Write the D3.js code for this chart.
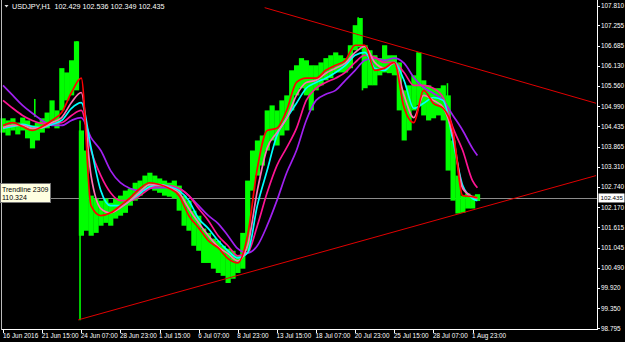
<!DOCTYPE html>
<html>
<head>
<meta charset="utf-8">
<script src="https://cdn.jsdelivr.net/npm/d3@7"></script>
<style>
body { margin: 0; background: #000; }
svg { display: block; }
text { font-family: "Liberation Sans", Arial, sans-serif; }
</style>
</head>
<body>
<svg id="chart" width="625" height="342"></svg>
<script>
// H1 bars, sampled every 8 bars (high / low of each group)
var barStep = 8;
var highs = [104.66,104.60,104.66,104.54,104.68,104.60,104.46,104.54,104.66,104.82,
	105.16,104.88,106.06,105.94,106.28,106.81,104.32,103.76,102.50,102.42,
	102.36,102.42,102.30,102.42,102.50,102.64,102.70,102.86,102.92,103.06,
	103.14,103.06,102.98,102.92,102.86,102.92,102.78,102.50,102.36,102.08,
	101.94,101.58,101.46,101.30,101.24,101.10,101.02,100.96,100.82,101.46,
	102.92,103.76,104.04,104.18,104.88,105.02,104.88,105.16,105.30,106.00,
	106.14,106.34,106.28,106.14,106.14,106.22,106.34,106.42,106.50,106.42,
	106.34,106.70,107.26,107.46,106.70,106.56,106.42,106.34,106.70,106.42,
	106.42,106.22,105.44,105.58,105.86,106.50,105.72,105.58,105.50,105.50,
	105.58,105.30,104.04,103.06,102.50,102.56,102.50,102.54];
var lows = [104.26,104.18,104.32,104.21,104.32,104.10,103.82,104.04,104.26,104.38,
	104.46,104.38,104.88,105.16,105.30,105.44,101.38,101.52,101.38,101.46,
	101.66,101.74,101.66,101.86,101.94,102.02,102.22,102.36,102.50,102.64,
	102.70,102.64,102.58,102.50,102.47,102.42,102.08,101.66,101.52,101.10,
	100.96,100.62,100.62,100.46,100.34,100.26,100.06,100.18,100.34,100.46,
	100.96,102.64,103.06,103.34,103.76,104.04,103.90,104.18,104.32,104.88,
	105.30,105.50,105.30,104.88,105.44,105.58,105.72,105.78,105.94,105.94,
	105.94,106.06,106.56,106.64,105.50,105.58,105.58,105.86,105.94,105.92,
	105.86,104.88,104.04,104.32,104.88,105.02,104.74,104.60,104.66,104.74,
	104.60,103.20,102.36,102.00,102.02,102.14,102.14,102.35];

// single long bars: [bar, high, low]
var spikes = [[121,106.81,105.60],[126,104.60,99.02],[588,106.60,105.44],
	[678,106.50,105.30],[727,105.64,104.90],[52,105.20,104.70],[581,107.48,106.70]];

// moving averages, one value every 16 bars (last one at bar 776)
var maStep = 16;
var maRed = [104.46,104.54,104.43,104.32,104.43,104.60,104.82,105.38,105.78,102.22,
	101.94,102.02,102.22,102.44,102.70,102.86,102.81,102.70,102.50,101.94,
	101.60,101.24,101.04,100.74,100.62,101.38,103.26,104.32,104.38,104.88,
	105.66,105.78,105.78,106.00,106.14,106.28,106.70,106.70,106.00,106.06,
	106.22,104.96,104.54,105.44,105.08,104.94,104.32,102.50,102.47,102.44];
var maPink = [104.40,104.46,104.46,104.38,104.40,104.54,104.68,105.10,105.38,103.06,
	102.14,102.02,102.16,102.36,102.61,102.81,102.81,102.72,102.58,102.14,
	101.74,101.38,101.07,100.88,100.68,101.10,102.64,103.82,104.26,104.66,
	105.30,105.66,105.72,105.92,106.06,106.20,106.50,106.67,106.22,106.06,
	106.20,105.30,104.68,105.30,105.16,104.96,104.18,102.70,102.47,102.42];
var maCyan = [104.38,104.43,104.49,104.43,104.40,104.49,104.60,104.94,105.10,103.84,
	102.64,102.22,102.22,102.36,102.56,102.75,102.81,102.75,102.64,102.36,
	101.86,101.58,101.24,100.96,100.76,100.90,102.22,103.20,104.18,104.66,
	105.08,105.50,105.66,105.78,105.94,106.14,106.42,106.50,106.06,106.00,
	106.22,105.72,104.94,105.08,105.24,105.16,104.04,102.78,102.42,102.36];
var maDeepPink = [105.16,104.94,104.74,104.60,104.52,104.52,104.54,104.74,104.88,103.76,
	103.06,102.58,102.36,102.36,102.50,102.70,102.78,102.78,102.70,102.50,
	102.14,101.80,101.38,101.10,100.82,100.90,101.66,102.58,103.34,103.84,
	104.38,105.16,105.50,105.66,105.78,105.94,106.22,106.42,106.36,106.22,
	106.22,105.94,105.58,105.58,105.50,105.24,104.40,103.76,102.92,102.72];
var maPurple = [105.58,105.30,105.02,104.80,104.60,104.46,104.46,104.60,104.68,104.12,
	103.76,103.20,102.86,102.70,102.64,102.70,102.72,102.72,102.70,102.50,
	102.22,101.94,101.72,101.38,101.02,100.90,101.10,101.66,102.36,103.14,
	103.76,104.60,105.16,105.33,105.44,105.72,106.00,106.28,106.34,106.28,
	106.34,106.20,105.80,105.52,105.36,105.16,104.74,104.32,103.82,103.62];

// trendlines: two anchors each [bar, price]
var upperTrend = [[428,107.75],[970,105.08]];
var lowerTrend = [[123,99.03],[970,103.06]];

var timeLabels = ["16 Jun 2016","21 Jun 15:00","24 Jun 07:00","28 Jun 23:00","1 Jul 15:00",
	"6 Jul 07:00","8 Jul 23:00","13 Jul 15:00","18 Jul 07:00","20 Jul 23:00",
	"25 Jul 15:00","28 Jul 07:00","1 Aug 23:00"];
var barsPerLabel = 64;
var priceTicks = [107.810,107.255,106.685,106.130,105.560,104.990,104.435,103.865,103.310,
	102.740,102.170,101.615,101.045,100.490,99.920,99.350,98.795];
var lastPrice = 102.435;
var header = "USDJPY,H1  102.429 102.536 102.349 102.435";

var svg = d3.select("#chart");
var x = d3.scaleLinear().domain([0, 970]).range([3, 596]);
var y = d3.scaleLinear().domain([98.795, 107.810]).range([328.3, 5.5]);

function drawBars() {
	var g = svg.append("g");
	g.selectAll("rect")
		.data(highs)
		.enter()
		.append("rect")
		.attr("x", function(d, i) { return x(i * barStep - barStep / 2); })
		.attr("width", function(d, i) { return x(barStep) - x(0) + 0.3; })
		.attr("y", function(d) { return y(d); })
		.attr("height", function(d, i) { return y(lows[i]) - y(d); })
		.style("fill", "#00ff00");
	g.selectAll("line")
		.data(spikes)
		.enter()
		.append("line")
		.attr("x1", function(d) { return x(d[0]); })
		.attr("x2", function(d) { return x(d[0]); })
		.attr("y1", function(d) { return y(d[1]); })
		.attr("y2", function(d) { return y(d[2]); })
		.style("stroke", "#00ff00")
		.style("stroke-width", 1.6);
}

function drawMA(values, color) {
	var line = d3.line()
		.x(function(d, i) { return x(Math.min(i * maStep, 776)); })
		.y(function(d) { return y(d); })
		.curve(d3.curveMonotoneX);
	svg.append("path")
		.attr("d", line(values))
		.style("fill", "none")
		.style("stroke", color)
		.style("stroke-width", 1.7);
}

function drawTrend(pts) {
	svg.append("line")
		.attr("x1", x(pts[0][0])).attr("y1", y(pts[0][1]))
		.attr("x2", x(pts[1][0])).attr("y2", y(pts[1][1]))
		.style("stroke", "#e00000")
		.style("stroke-width", 1);
}

function drawAxes() {
	// price axis
	var ya = svg.append("g");
	ya.selectAll("line")
		.data(priceTicks)
		.enter()
		.append("line")
		.attr("x1", 597).attr("x2", 600)
		.attr("y1", function(d) { return Math.round(y(d)) + 0.5; })
		.attr("y2", function(d) { return Math.round(y(d)) + 0.5; })
		.style("stroke", "#fff");
	ya.selectAll("text")
		.data(priceTicks)
		.enter()
		.append("text")
		.attr("x", 601)
		.attr("y", function(d) { return y(d) + 2.3; })
		.style("fill", "#fff")
		.style("font-size", "6.4px")
		.text(function(d) { return d.toFixed(3); });

	// time axis
	var xa = svg.append("g");
	xa.selectAll("line")
		.data(timeLabels)
		.enter()
		.append("line")
		.attr("x1", function(d, i) { return Math.round(x(i * barsPerLabel)) + 0.5; })
		.attr("x2", function(d, i) { return Math.round(x(i * barsPerLabel)) + 0.5; })
		.attr("y1", 329).attr("y2", 333)
		.style("stroke", "#fff");
	xa.selectAll("text")
		.data(timeLabels)
		.enter()
		.append("text")
		.attr("x", function(d, i) { return x(i * barsPerLabel) + (i == 0 ? 0 : -0.5); })
		.attr("y", 338)
		.style("fill", "#fff")
		.style("font-size", "6.4px")
		.text(function(d) { return d; });

	svg.append("line").attr("x1", 597.5).attr("x2", 597.5).attr("y1", 0).attr("y2", 330)
		.style("stroke", "#fff");
	svg.append("line").attr("x1", 1).attr("x2", 598).attr("y1", 329.5).attr("y2", 329.5)
		.style("stroke", "#fff");
	svg.append("line").attr("x1", 1.5).attr("x2", 1.5).attr("y1", 0).attr("y2", 330)
		.style("stroke", "#bbb");
}

function drawLabels() {
	svg.append("path")
		.attr("d", "M4.5,5 L8.5,5 L6.5,7.5 Z")
		.style("fill", "#ddd");
	svg.append("text")
		.attr("x", 12).attr("y", 8.5)
		.style("fill", "#fff")
		.style("font-size", "7.2px")
		.style("white-space", "pre")
		.text(header);

	// last price marker
	svg.append("rect")
		.attr("x", 598.5).attr("y", y(lastPrice) - 4.5)
		.attr("width", 26).attr("height", 9)
		.style("fill", "#fff");
	svg.append("text")
		.attr("x", 600.5).attr("y", y(lastPrice) + 2.3)
		.style("fill", "#000")
		.style("font-size", "6.2px")
		.text(lastPrice.toFixed(3));

	// trendline tooltip
	var tip = svg.append("g");
	tip.append("rect")
		.attr("x", 0.5).attr("y", 183.5)
		.attr("width", 50).attr("height", 19)
		.style("fill", "#ffffe1")
		.style("stroke", "#767676");
	tip.append("text").attr("x", 2).attr("y", 191.5)
		.style("font-size", "7px").style("fill", "#000").text("Trendline 2309");
	tip.append("text").attr("x", 2).attr("y", 200)
		.style("font-size", "7px").style("fill", "#000").text("110.324");
}

function loadViz() {
	svg.append("rect").attr("width", 625).attr("height", 342).style("fill", "#000");
	svg.append("line")
		.attr("x1", 2).attr("x2", 597)
		.attr("y1", Math.round(y(lastPrice)) + 0.5).attr("y2", Math.round(y(lastPrice)) + 0.5)
		.style("stroke", "#8c8c8c");
	drawBars();
	drawMA(maPurple, "#a020f0");
	drawMA(maDeepPink, "#ff1493");
	drawMA(maCyan, "#00ffff");
	drawMA(maPink, "#ff6eb4");
	drawMA(maRed, "#ff0000");
	drawTrend(upperTrend);
	drawTrend(lowerTrend);
	drawAxes();
	drawLabels();
}

loadViz();
</script>
</body>
</html>
